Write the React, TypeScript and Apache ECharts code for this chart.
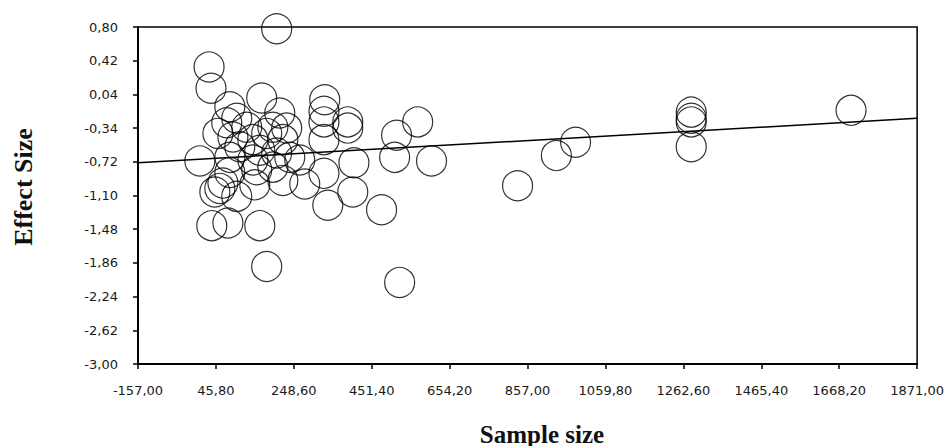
import React, { useEffect, useRef } from "react";
import * as echarts from "echarts";

// Axis settings
const xMin = -157;
const xMax = 1871;
const xInterval = 202.8;
const yMin = -3.0;
const yMax = 0.8;
const yInterval = 0.38;

const xTickLabels = [
  "-157,00", "45,80", "248,60", "451,40", "654,20", "857,00",
  "1059,80", "1262,60", "1465,40", "1668,20", "1871,00",
];
const yTickLabels = [
  "-3,00", "-2,62", "-2,24", "-1,86", "-1,48", "-1,10",
  "-0,72", "-0,34", "0,04", "0,42", "0,80",
];

// Studies: sample size and effect size
const sampleSize = [
  204, 28, 33, 82, 165, 329, 327, 327, 327, 389,
  389, 516, 571, 511, 607, 4, 405, 327, 402, 337,
  477, 524, 178, 35, 77, 160, 831, 932, 982, 1283,
  1283, 1283, 1283, 1699, 43, 56, 100, 64, 212, 220,
  277, 152, 82, 147, 74, 90, 108, 126, 142, 178,
  194, 220, 204, 160, 238, 264, 82, 142, 194, 230,
  100, 51,
];
const effectSize = [
  0.78, 0.35, 0.11, -0.1, 0.0, -0.02, -0.15, -0.27, -0.47, -0.27,
  -0.34, -0.42, -0.27, -0.67, -0.71, -0.71, -0.73, -0.85, -1.06, -1.21,
  -1.26, -2.08, -1.9, -1.44, -1.41, -1.44, -0.99, -0.65, -0.5, -0.16,
  -0.23, -0.27, -0.55, -0.14, -1.06, -1.02, -1.11, -0.96, -0.17, -0.93,
  -0.97, -0.81, -0.84, -0.98, -0.28, -0.44, -0.55, -0.33, -0.47, -0.4,
  -0.33, -0.47, -0.62, -0.59, -0.67, -0.7, -0.67, -0.7, -0.78, -0.34,
  -0.23, -0.4,
];

// Regression line end points
const fitX = [-157, 1871];
const fitY = [-0.73, -0.23];

export default function App() {
  const ref = useRef<HTMLDivElement>(null);

  useEffect(() => {
    document.body.style.margin = "0";
    if (!ref.current) return;
    const chart = echarts.init(ref.current, null, { renderer: "svg" });

    const points = sampleSize.map((x, i) => [x, effectSize[i]]);
    const fit = fitX.map((x, i) => [x, fitY[i]]);

    const labelStyle = {
      margin: 20,
      color: "#1a1a1a",
      fontFamily: "DejaVu Sans",
      fontSize: 13,
      showMinLabel: true,
      showMaxLabel: true,
    };

    chart.setOption({
      animation: false,
      backgroundColor: "#ffffff",
      grid: {
        left: 138,
        top: 27,
        width: 780,
        height: 337,
        show: true,
        borderColor: "#000",
        borderWidth: 1.5,
      },
      xAxis: {
        type: "value",
        min: xMin,
        max: xMax,
        interval: xInterval,
        splitLine: { show: false },
        axisLine: { show: true, onZero: false, lineStyle: { color: "#000", width: 2 } },
        axisTick: { show: true, inside: false, length: 5, lineStyle: { color: "#000", width: 1.5 } },
        axisLabel: {
          ...labelStyle,
          formatter: (v: number) => xTickLabels[Math.round((v - xMin) / xInterval)] ?? "",
        },
      },
      yAxis: {
        type: "value",
        min: yMin,
        max: yMax,
        interval: yInterval,
        splitLine: { show: false },
        axisLine: { show: true, onZero: false, lineStyle: { color: "#000", width: 2 } },
        axisTick: { show: true, inside: false, length: 5, lineStyle: { color: "#000", width: 1.5 } },
        axisLabel: {
          ...labelStyle,
          formatter: (v: number) => yTickLabels[Math.round((v - yMin) / yInterval)] ?? "",
        },
      },
      series: [
        {
          type: "line",
          data: fit,
          showSymbol: false,
          symbol: "none",
          lineStyle: { color: "#000", width: 1.5 },
          silent: true,
          z: 3,
        },
        {
          type: "scatter",
          data: points,
          symbol: "circle",
          symbolSize: 30,
          itemStyle: { color: "rgba(0,0,0,0)", borderColor: "#000", borderWidth: 1.2 },
          z: 2,
        },
      ],
      graphic: [
        {
          type: "text",
          x: 23,
          y: 187,
          rotation: Math.PI / 2,
          style: {
            text: "Effect Size",
            font: "bold 26px 'Liberation Serif'",
            fill: "#111",
            align: "center",
            verticalAlign: "middle",
            textAlign: "center",
            textVerticalAlign: "middle",
          },
        },
        {
          type: "text",
          x: 542,
          y: 434,
          style: {
            text: "Sample size",
            font: "bold 25px 'Liberation Serif'",
            fill: "#111",
            align: "center",
            verticalAlign: "middle",
            textAlign: "center",
            textVerticalAlign: "middle",
          },
        },
      ],
    });

    return () => chart.dispose();
  }, []);

  return <div ref={ref} style={{ width: 947, height: 446 }} />;
}
